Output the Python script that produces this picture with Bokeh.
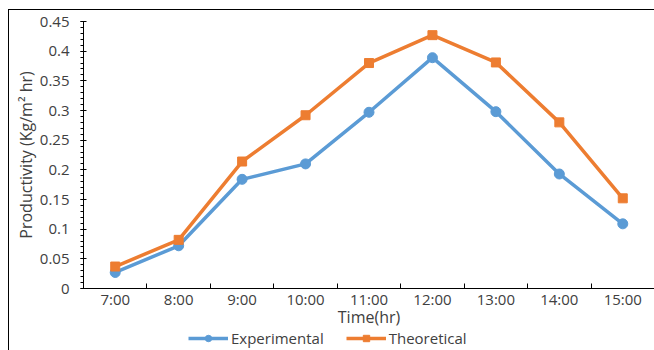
from bokeh.plotting import figure
from bokeh.models import Range1d, FixedTicker, Legend, LegendItem
from bokeh.layouts import column
from bokeh.embed import file_html
from bokeh.resources import INLINE

times = ["7:00", "8:00", "9:00", "10:00", "11:00", "12:00", "13:00", "14:00", "15:00"]
experimental = [0.027, 0.072, 0.184, 0.210, 0.297, 0.389, 0.298, 0.193, 0.109]
theoretical = [0.037, 0.082, 0.214, 0.292, 0.380, 0.427, 0.381, 0.280, 0.152]
y_tick_labels = ["0", "0.05", "0.1", "0.15", "0.2", "0.25", "0.3", "0.35", "0.4", "0.45"]
series_names = ["Experimental", "Theoretical"]

FONT = "Open Sans"
TXT = "#404040"
BLUE = "#5B9BD5"
ORANGE = "#ED7D31"

n = len(times)
xpos = [i + 0.5 for i in range(n)]
y_ticks = [float(s) for s in y_tick_labels]
y_minor = [round(i * 0.01, 2) for i in range(int(round(y_ticks[-1] / 0.01)) + 1)]

p = figure(width=645, height=320, x_range=Range1d(0, n), y_range=Range1d(0, y_ticks[-1]),
           output_backend="svg", toolbar_location=None,
           min_border_left=74, min_border_right=0, min_border_top=11, min_border_bottom=0)
p.outline_line_color = None
p.xgrid.visible = False
p.ygrid.visible = False

xa = p.xaxis[0]
xa.ticker = FixedTicker(ticks=xpos, minor_ticks=list(range(n + 1)))
xa.major_label_overrides = {x: t for x, t in zip(xpos, times)}
xa.major_tick_in = 0
xa.major_tick_out = 0
xa.minor_tick_in = 5
xa.minor_tick_out = 0
xa.minor_tick_line_color = "#000000"
xa.axis_line_color = "#000000"
xa.major_label_text_font = FONT
xa.major_label_text_font_size = "15px"
xa.major_label_text_color = TXT
xa.major_label_standoff = 0
xa.axis_label = "Time(hr)"
xa.axis_label_text_font = FONT
xa.axis_label_text_font_size = "16px"
xa.axis_label_text_font_style = "normal"
xa.axis_label_text_color = TXT
xa.axis_label_standoff = -6

ya = p.yaxis[0]
ya.ticker = FixedTicker(ticks=y_ticks, minor_ticks=y_minor)
ya.major_label_overrides = {v: s for v, s in zip(y_ticks, y_tick_labels)}
ya.major_tick_in = 3
ya.major_tick_out = 3
ya.minor_tick_in = 0
ya.minor_tick_out = 3
ya.major_tick_line_color = "#000000"
ya.minor_tick_line_color = "#000000"
ya.axis_line_color = "#000000"
ya.major_label_text_font = FONT
ya.major_label_text_font_size = "15px"
ya.major_label_text_color = TXT
ya.major_label_standoff = 11
ya.axis_label = "Productivity (Kg/m\u00b2 hr)"
ya.axis_label_text_font = FONT
ya.axis_label_text_font_size = "16px"
ya.axis_label_text_font_style = "normal"
ya.axis_label_text_color = TXT
ya.axis_label_standoff = 0

p.line(xpos, experimental, line_color=BLUE, line_width=3.5)
p.scatter(xpos, experimental, marker="circle", size=10, fill_color=BLUE, line_color=BLUE)
p.line(xpos, theoretical, line_color=ORANGE, line_width=3.5)
p.scatter(xpos, theoretical, marker="square", size=9, fill_color=ORANGE, line_color=ORANGE)

# legend strip below the chart (its glyphs use the same series, outside this strip's visible y range)
lg = figure(width=645, height=20, x_range=Range1d(0, n), y_range=Range1d(10, 11),
            output_backend="svg", toolbar_location=None,
            x_axis_location=None, y_axis_location=None,
            min_border_left=0, min_border_right=0, min_border_top=0, min_border_bottom=0)
lg.outline_line_color = None
lg.xgrid.visible = False
lg.ygrid.visible = False
k1 = lg.line(xpos, experimental, line_color=BLUE, line_width=3.5)
m1 = lg.scatter(xpos, experimental, marker="circle", size=10, fill_color=BLUE, line_color=BLUE)
k2 = lg.line(xpos, theoretical, line_color=ORANGE, line_width=3.5)
m2 = lg.scatter(xpos, theoretical, marker="square", size=9, fill_color=ORANGE, line_color=ORANGE)
legend = Legend(items=[LegendItem(label=series_names[0], renderers=[k1, m1]),
                       LegendItem(label=series_names[1], renderers=[k2, m2])],
                orientation="horizontal", location=(105, 2),
                label_text_font=FONT, label_text_font_size="15px", label_text_color=TXT,
                glyph_width=40, glyph_height=16, label_standoff=3, spacing=22,
                padding=0, margin=0, border_line_color=None, background_fill_alpha=0,
                label_height=16)
lg.add_layout(legend, "center")

layout = column(p, lg, spacing=0, margin=(9, 0, 0, 8),
                styles={"border-top": "1px solid #000000", "border-left": "1px solid #000000"})

open("out.html", "w").write(file_html(layout, INLINE))
